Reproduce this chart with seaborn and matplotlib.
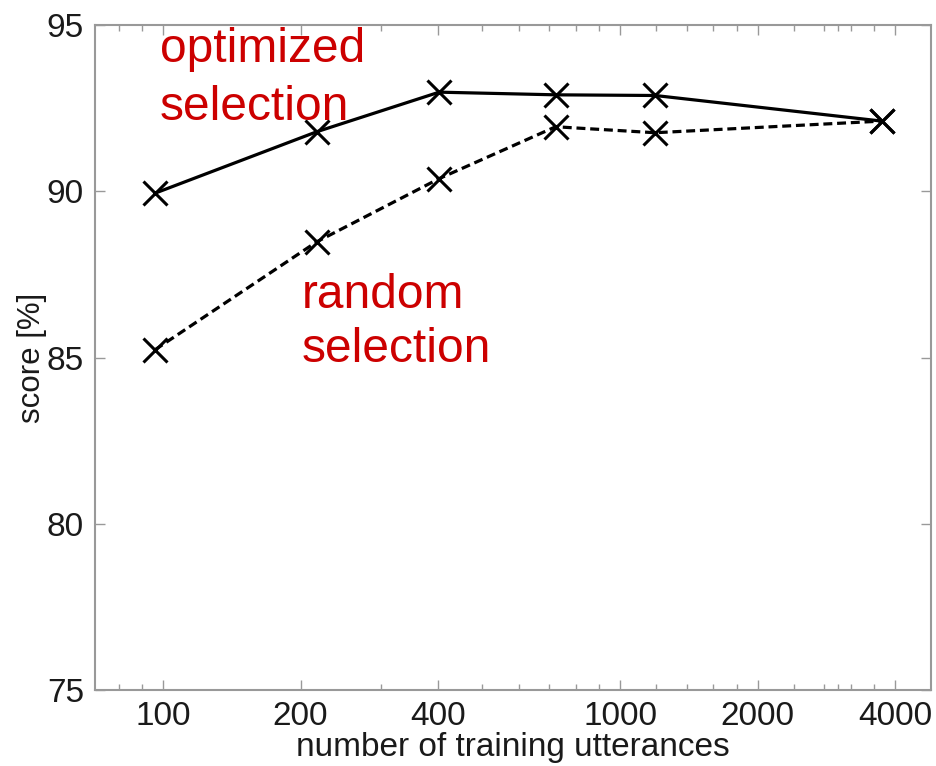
import matplotlib
matplotlib.use("Agg")
import matplotlib.pyplot as plt
import seaborn as sns
import pandas as pd
from matplotlib.ticker import FixedLocator, FixedFormatter, NullFormatter

# data
utterances = [96, 217, 402, 723, 1193, 3737]
optimized = [89.94, 91.79, 92.98, 92.90, 92.88, 92.11]
random_sel = [85.23, 88.48, 90.38, 91.94, 91.76, 92.11]
xticks = [100, 200, 400, 1000, 2000, 4000]
xminor = [80, 90, 300, 500, 600, 700, 800, 900, 1200, 1400, 1600, 1800,
          2400, 2800, 3000, 3200, 3600]
yticks = [75, 80, 85, 90, 95]

sns.set_theme(style="white")
plt.rcParams['font.family'] = ['Liberation Sans', 'DejaVu Sans']

df = pd.concat([
    pd.DataFrame({"n": utterances, "score": optimized, "sel": "optimized"}),
    pd.DataFrame({"n": utterances, "score": random_sel, "sel": "random"}),
])

fig = plt.figure(figsize=(9.36, 7.66), dpi=100)
ax = fig.add_axes([95 / 936, 1 - 690 / 766, 836 / 936, 665 / 766])

sns.lineplot(data=df[df.sel == "optimized"], x="n", y="score", ax=ax,
             color="black", lw=2.3, marker="x", markersize=17,
             markeredgewidth=2.2, markeredgecolor="black")
sns.lineplot(data=df[df.sel == "random"], x="n", y="score", ax=ax,
             color="black", lw=2.3, marker="x", markersize=17,
             markeredgewidth=2.2, markeredgecolor="black",
             linestyle=(0, (2.8, 1.5)))

ax.set_xscale("log")
ax.set_xlim(71, 4790)
ax.set_ylim(75, 95)
ax.xaxis.set_major_locator(FixedLocator(xticks))
ax.xaxis.set_major_formatter(FixedFormatter([str(v) for v in xticks]))
ax.xaxis.set_minor_locator(FixedLocator(xminor))
ax.xaxis.set_minor_formatter(NullFormatter())
ax.set_yticks(yticks)

ax.tick_params(axis="both", which="major", direction="in", length=7, width=1,
               color="#999999", labelsize=24, labelcolor="#1a1a1a",
               top=True, right=True, bottom=True, left=True, pad=8)
ax.tick_params(axis="x", which="minor", direction="in", length=4, width=1,
               color="#999999", top=True, bottom=True)
for s in ax.spines.values():
    s.set_color("#999999")
    s.set_linewidth(1.5)

ax.set_xlabel("number of training utterances", fontsize=24, color="#1a1a1a", labelpad=0)
ax.set_ylabel("score [%]", fontsize=22.5, color="#1a1a1a")
ax.yaxis.set_label_coords(-0.058, 0.5)

red = "#cc0000"
ax.text(98.5, 93.90, "optimized", color=red, fontsize=34.5, va="baseline", ha="left")
ax.text(98.5, 92.14, "selection", color=red, fontsize=34.5, va="baseline", ha="left")
ax.text(201, 86.49, "random", color=red, fontsize=34.5, va="baseline", ha="left")
ax.text(201, 84.86, "selection", color=red, fontsize=34.5, va="baseline", ha="left")

fig.savefig("out.png", dpi=100, facecolor="white")
